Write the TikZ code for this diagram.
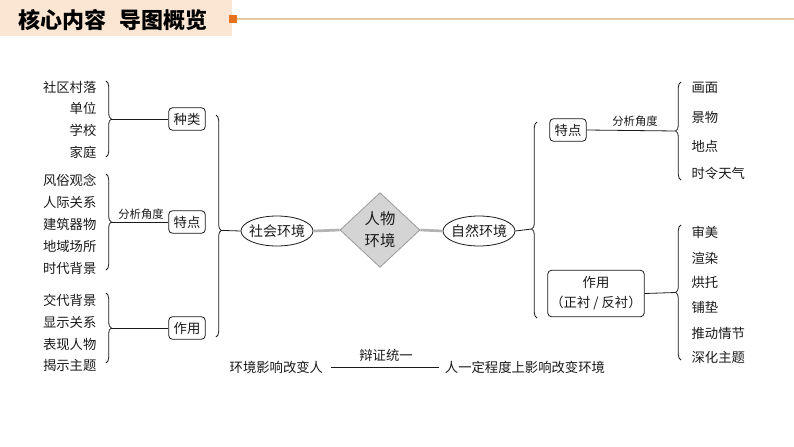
\documentclass[tikz,border=0pt]{standalone}
\usepackage{fontspec}
\setmainfont{Noto Sans CJK SC}
\usetikzlibrary{decorations.pathreplacing,shapes.geometric}
\definecolor{hdr}{HTML}{FBE6D4}
\definecolor{orsq}{HTML}{E8731E}
\definecolor{tanline}{HTML}{E3CBA0}
\definecolor{dfill}{HTML}{D4D4D4}
\definecolor{dborder}{HTML}{9A9A9A}
\definecolor{gconn}{HTML}{B3B3B3}
\definecolor{ink}{HTML}{1A1A1A}
\tikzset{
  txt/.style={inner sep=1pt, text=ink, font=\fontsize{10}{12}\selectfont},
  ltxt/.style={txt, anchor=east},
  rtxt/.style={txt, anchor=west},
  small/.style={inner sep=1pt, text=ink, font=\fontsize{8.5}{10}\selectfont},
  boxn/.style={draw=ink, line width=0.6pt, rounded corners=3pt, minimum width=27.5pt, minimum height=17pt, inner sep=2pt, text=ink, font=\fontsize{10}{12}\selectfont},
  ell/.style={ellipse, draw=ink, line width=0.6pt, minimum width=54pt, minimum height=22.5pt, inner xsep=-3pt, inner ysep=0pt, text=ink, font=\fontsize{10.5}{12}\selectfont},
  conn/.style={draw=ink, line width=0.6pt},
  thickconn/.style={draw=gconn, line width=2pt},
  brc/.style={draw=ink, line width=0.6pt, decorate, decoration={brace, amplitude=4pt}},
}
\begin{document}
\begin{tikzpicture}[x=0.75pt,y=-0.75pt]
\useasboundingbox (0,0) rectangle (794,447);
\fill[white] (0,0) rectangle (794,447);
% header
\fill[hdr] (0,0) rectangle (232,36);
\node[anchor=west, inner sep=0pt, text=black, font=\fontsize{16.5}{18}\selectfont\bfseries] (title) at (18,20) {核心内容\hspace{0.6em}导图概览};
\fill[orsq] (229,15) rectangle (237,23);
\coordinate (hl1) at (237,19);
\coordinate (hl2) at (794,19);
\draw[tanline, line width=0.8pt] (hl1) -- (hl2);

% left group 1
\node[ltxt] (a1) at (98,87) {社区村落};
\node[ltxt] (a2) at (98,108) {单位};
\node[ltxt] (a3) at (98,130) {学校};
\node[ltxt] (a4) at (98,152) {家庭};
\draw[brc] (106,81) -- (106,157);
\coordinate (ta) at (111.3,119);
\node[boxn] (k1) at (187,119) {种类};
\draw[conn] (ta) -- (k1.west);

% left group 2
\node[ltxt] (b1) at (98,180) {风俗观念};
\node[ltxt] (b2) at (98,202) {人际关系};
\node[ltxt] (b3) at (98,224) {建筑器物};
\node[ltxt] (b4) at (98,246) {地域场所};
\node[ltxt] (b5) at (98,268) {时代背景};
\draw[brc] (106,174) -- (106,270);
\coordinate (tb) at (111.3,222);
\node[boxn] (k2) at (187,222) {特点};
\draw[conn] (tb) -- (k2.west);
\node[small, anchor=south] (fx1) at (141,221) {分析角度};

% left group 3
\node[ltxt] (c1) at (98,300) {交代背景};
\node[ltxt] (c2) at (98,322) {显示关系};
\node[ltxt] (c3) at (98,344) {表现人物};
\node[ltxt] (c4) at (98,365) {揭示主题};
\draw[brc] (106,293) -- (106,363);
\coordinate (tc) at (111.3,328);
\node[boxn] (k3) at (187,328) {作用};
\draw[conn] (tc) -- (k3.west);

% big left brace
\draw[brc, decoration={brace, amplitude=4pt, aspect=0.52}] (216,115) -- (216,337);
\coordinate (tl) at (221.3,230.4);

% center
\node[ell] (soc) at (277,231) {社会环境};
\node[diamond, draw=dborder, fill=dfill, line width=0.6pt, minimum width=60pt, minimum height=56pt, inner sep=0pt, align=center, text=ink, font=\fontsize{11.5}{16.5}\selectfont] (dia) at (380,230) {人物\\环境};
\node[ell] (nat) at (479,231) {自然环境};
\draw[conn] (tl) -- (soc.west);
\draw[thickconn] (soc.east) -- (dia.west);
\draw[thickconn] (dia.east) -- (nat.west);

% big right brace
\draw[brc, decoration={brace, amplitude=4pt, aspect=0.454}] (537,318) -- (537,122);
\coordinate (tr) at (531.7,229);
\draw[conn] (nat.east) -- (tr);

% right group 1
\node[boxn] (r1) at (568,130) {特点};
\draw[brc] (681,180) -- (681,82);
\coordinate (trb) at (675.7,131);
\draw[conn] (r1.east) -- (trb);
\node[small, anchor=south] (fx2) at (635,128) {分析角度};
\node[rtxt] (d1) at (690,88) {画面};
\node[rtxt] (d2) at (690,117) {景物};
\node[rtxt] (d3) at (690,146) {地点};
\node[rtxt] (d4) at (690,173) {时令天气};

% right group 2
\node[draw=ink, line width=0.6pt, rounded corners=3pt, minimum width=70.5pt, minimum height=35pt, inner sep=2pt, align=center, text=ink, font=\fontsize{10}{15}\selectfont] (r2) at (596,293.5) {作用\\（正衬 / 反衬）};
\draw[brc] (681,360) -- (681,225);
\coordinate (trc) at (675.7,292.5);
\draw[conn] (r2.east) -- (trc);
\node[rtxt] (e1) at (690,232) {审美};
\node[rtxt] (e2) at (690,258) {渲染};
\node[rtxt] (e3) at (690,282) {烘托};
\node[rtxt] (e4) at (690,307) {铺垫};
\node[rtxt] (e5) at (690,333) {推动情节};
\node[rtxt] (e6) at (690,357) {深化主题};

% bottom
\node[ltxt, inner sep=2pt] (f1) at (326,367) {环境影响改变人};
\node[rtxt, inner sep=2pt] (f2) at (442,367) {人一定程度上影响改变环境};
\draw[conn, shorten <=4pt, shorten >=2pt] (f1.east) -- (f2.west);
\node[txt] (fx3) at (386,355) {辩证统一};
\end{tikzpicture}
\end{document}
